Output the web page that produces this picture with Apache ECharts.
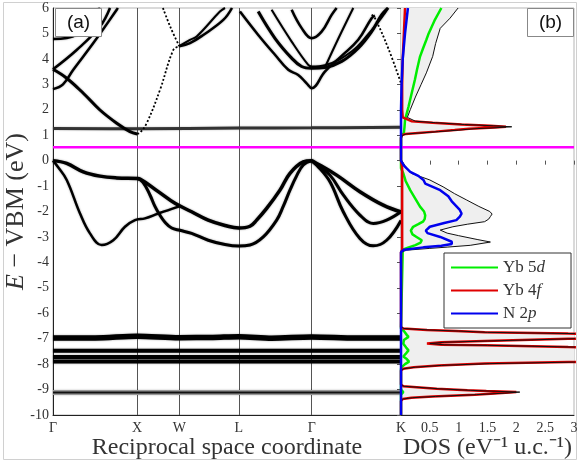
<!DOCTYPE html>
<html>
<head>
<meta charset="utf-8">
<script src="https://cdn.jsdelivr.net/npm/echarts@6/dist/echarts.min.js"></script>
<style>
  html, body { margin: 0; padding: 0; background: #fff; }
  #chart { width: 580px; height: 462px; }
</style>
</head>
<body>
<div id="chart"></div>
<script>
// k-path: high-symmetry points (distance along path)
const kTicks = [0, 1, 1.5, 2.207, 3.073, 4.134];
const kNames = ['Γ', 'X', 'W', 'L', 'Γ', 'K'];
const gapLine = 0.53;

// valence bands [k, E]
const vbA = [[0,0],[0.163,-0.11],[0.36,-0.44],[0.558,-0.61],[0.757,-0.68],[1.0,-0.7],[1.033,-0.72],[1.251,-1.22],[1.449,-1.68],[1.647,-2.01],[1.844,-2.34],[2.043,-2.55],[2.207,-2.65],[2.34,-2.58],[2.419,-2.34],[2.538,-1.88],[2.696,-1.16],[2.815,-0.5],[2.973,-0.05],[3.073,0],[3.092,-0.03],[3.369,-0.57],[3.646,-1.22],[3.923,-1.75],[4.134,-2.02]];
const vbB = [[0,0],[0.059,-0.25],[0.163,-0.76],[0.321,-2.08],[0.439,-2.86],[0.578,-3.32],[0.716,-3.13],[0.855,-2.6],[0.974,-2.34],[1.093,-2.27],[1.251,-2.08],[1.5,-1.8]];
const vbC = [[1.0,-0.7],[1.069,-0.85],[1.152,-1.35],[1.211,-1.8],[1.271,-2.15],[1.33,-2.42],[1.41,-2.65],[1.508,-2.74],[1.647,-2.86],[1.844,-3.13],[2.043,-3.3],[2.207,-3.36],[2.34,-3.32],[2.498,-3.0],[2.657,-2.34],[2.735,-1.8],[2.815,-1.16],[2.894,-0.6],[2.973,-0.17],[3.073,0]];
const vbD = [[3.073,0],[3.132,-0.17],[3.29,-0.57],[3.448,-1.35],[3.646,-2.14],[3.804,-2.47],[3.963,-2.34],[4.134,-2.01]];
const vbE = [[3.073,0],[3.132,-0.17],[3.29,-0.83],[3.448,-2.01],[3.646,-3.06],[3.804,-3.35],[3.963,-3.13],[4.134,-2.35]];

// conduction bands [k, E]
const cbFlat = [[0,1.26],[1.0,1.25],[2.207,1.28],[3.073,1.29],[4.134,1.31]];
const cbC1 = [[0,3.59],[0.163,3.24],[0.36,2.65],[0.558,1.99],[0.757,1.47],[0.914,1.14],[1.0,1.05]];
const cbXWup = [[1.0,1.05],[1.033,1.1],[1.113,1.47],[1.271,2.78],[1.429,4.35],[1.5,4.5]];
const cbC2 = [[0,3.59],[0.281,4.35],[0.558,5.27],[0.677,6.0]];
const cbC3 = [[0,2.81],[0.119,3.0],[0.241,3.57],[0.479,4.62],[0.757,5.93],[0.77,6.0]];
const cbC4 = [[0,4.78],[0.163,4.82],[0.281,4.95],[0.4,5.3],[0.558,6.0]];
const cbXWdown = [[1.306,6.0],[1.401,5.2],[1.5,4.5]];
const cbWL1 = [[1.5,4.5],[1.627,4.62],[1.785,4.94],[2.023,5.53],[2.126,6.0]];
const cbWL2 = [[1.5,4.5],[1.627,4.75],[1.707,4.88],[1.983,5.86],[2.043,6.0]];
const cbLG1 = [[2.221,5.86],[2.438,4.94],[2.637,4.16],[2.795,3.57],[2.913,3.37],[3.013,3.04],[3.073,2.85],[3.23,3.5],[3.429,4.12],[3.626,4.75],[3.785,5.6],[3.824,5.7]];
const cbLG2 = [[2.438,5.86],[2.637,4.81],[2.835,4.03],[2.954,3.7],[3.073,3.63],[3.23,3.66],[3.429,3.9],[3.626,4.42],[3.785,5.07],[3.904,5.73],[3.979,6.0]];
const cbLG3 = [[2.597,5.93],[2.835,4.68],[3.032,3.76],[3.073,3.7],[3.23,3.75],[3.547,4.29],[3.745,4.97],[3.943,5.8],[3.98,6.0]];
const cbTop = [[2.835,5.93],[2.954,5.21],[3.073,4.81],[3.191,5.07],[3.31,5.73],[3.369,6.0]];
const cbGK = [[3.23,3.66],[3.39,4.8],[3.567,6.0]];
const cbPeakK = [[3.785,5.73],[3.824,5.6],[3.982,4.42],[4.134,3.04]];

// Yb 4f core bands [k, E]
const core1 = [[0,-6.97],[0.5,-6.97],[1.0,-6.9],[1.5,-6.96],[1.9,-6.95],[2.207,-6.92],[2.6,-6.98],[3.073,-6.93],[3.6,-6.97],[4.134,-6.97]];
const core2 = [[0,-7.47],[4.134,-7.47]];
const core3 = [[0,-7.72],[4.134,-7.72]];
const core4 = [[0,-7.9],[4.134,-7.9]];
const core5 = [[0,-9.12],[4.134,-9.12]];

// DOS: energies and values
const totalE = [6.0,5.6,5.2,4.6,4.1,3.45,3.0,2.5,2.0,1.7,1.63,1.55,1.49,1.42,1.37,1.33,1.3,1.25,1.2,1.14,1.09,1.05,1.0,0.9,0.05,0.0,-0.2,-0.5,-0.76,-1.03,-1.3,-1.55,-1.8,-2.0,-2.1,-2.2,-2.3,-2.4,-2.5,-2.6,-2.73,-2.85,-2.95,-3.1,-3.2,-3.26,-3.33,-3.4,-3.45,-3.52,-3.6,-6.5,-6.6,-6.66,-6.7,-6.75,-6.8,-6.83,-6.98,-7.0,-7.05,-7.09,-7.14,-7.19,-7.24,-7.26,-7.33,-7.36,-7.9,-7.92,-7.98,-8.05,-8.12,-8.18,-8.25,-8.8,-8.87,-8.97,-9.03,-9.06,-9.1,-9.14,-9.2,-9.27,-9.32,-9.37,-9.45,-10];
const totalDos = [0.99,0.85,0.68,0.6,0.55,0.44,0.35,0.25,0.16,0.11,0.12,0.25,0.6,1.1,1.6,1.92,1.7,1.25,1.0,0.65,0.35,0.1,0.03,0,0,0.02,0.07,0.18,0.5,0.73,0.93,1.14,1.35,1.54,1.58,1.55,1.52,1.45,1.15,0.9,0.68,0.8,1.0,1.32,1.55,1.55,1.2,0.8,0.5,0.1,0,0,0.05,0.5,1.0,1.5,3.0,4.0,4.0,3.0,2.2,1.5,0.75,0.5,0.75,1.5,3.0,4.0,4.0,3.0,1.54,0.7,0.25,0.05,0,0,0.05,0.66,1.2,1.53,2.06,1.8,1.31,0.6,0.2,0.04,0,0];

const f4E = [6.0,5.0,4.0,3.0,2.0,1.7,1.63,1.55,1.49,1.42,1.37,1.33,1.3,1.25,1.2,1.14,1.09,1.05,1.0,0.9,0.0,-0.3,-3.5,-3.6,-6.55,-6.6,-6.66,-6.7,-6.75,-6.8,-6.83,-6.98,-7.0,-7.05,-7.09,-7.14,-7.19,-7.24,-7.26,-7.33,-7.36,-7.9,-7.92,-7.98,-8.05,-8.12,-8.18,-8.25,-8.8,-8.87,-8.97,-9.03,-9.06,-9.1,-9.14,-9.2,-9.27,-9.32,-9.37,-9.45,-10];
const f4Dos = [0.07,0.05,0.03,0.02,0.02,0.03,0.06,0.18,0.55,1.05,1.55,1.82,1.62,1.18,0.93,0.6,0.3,0.08,0.02,0,0,0.02,0.02,0,0,0.04,0.45,0.95,1.45,2.9,4.0,4.0,2.9,2.1,1.45,0.7,0.45,0.7,1.45,2.9,4.0,4.0,2.9,1.45,0.65,0.22,0.04,0,0,0.04,0.62,1.15,1.48,2.0,1.75,1.28,0.55,0.18,0.03,0,0];

const d5E = [6.0,5.5,5.0,4.75,4.4,4.09,3.6,3.17,2.6,2.12,1.6,1.3,1.1,1.0,0.9,-0.3,-0.5,-0.8,-1.16,-1.5,-1.81,-2.0,-2.15,-2.3,-2.4,-2.5,-2.6,-2.75,-2.9,-3.0,-3.13,-3.22,-3.32,-3.42,-3.5,-3.55,-6.6,-6.7,-6.85,-6.93,-7.05,-7.2,-7.35,-7.46,-7.6,-7.7,-7.8,-7.9,-8.0,-8.12,-8.2,-9.0,-9.1,-9.2,-10];
const d5Dos = [0.7,0.58,0.48,0.44,0.38,0.33,0.28,0.24,0.18,0.13,0.07,0.06,0.05,0.02,0,0,0.04,0.08,0.16,0.25,0.33,0.4,0.42,0.41,0.38,0.3,0.21,0.17,0.2,0.27,0.36,0.34,0.25,0.12,0.03,0,0,0.05,0.1,0.13,0.05,0.04,0.09,0.13,0.08,0.04,0.1,0.14,0.07,0.01,0,0,0.04,0,0];

const p2E = [6.0,5.0,4.0,3.0,2.0,0.0,-0.2,-0.44,-0.6,-0.76,-0.9,-1.16,-1.4,-1.6,-1.94,-2.08,-2.2,-2.34,-2.45,-2.6,-2.75,-2.85,-3.0,-3.19,-3.28,-3.35,-3.41,-3.5,-3.6,-10];
const p2Dos = [0.12,0.07,0.03,0.01,0,0,0.05,0.16,0.3,0.39,0.42,0.68,0.82,0.88,1.02,1.05,1.02,0.96,0.75,0.5,0.43,0.46,0.68,0.88,0.88,0.7,0.39,0.05,0,0];

const serif = 'Liberation Serif';
const pairs = (es, vs) => es.map((e, i) => [vs[i], e]);

const bandSeries = (data, width, extra) => Object.assign({
    type: 'line',
    xAxisIndex: 0,
    yAxisIndex: 0,
    data: data,
    smooth: 0.4,
    symbol: 'none',
    silent: true,
    lineStyle: {color: '#000', width: width, shadowColor: 'rgba(0,0,0,0.4)', shadowBlur: 2},
    z: 3
}, extra || {});

const dosSeries = (name, data, color, width, z) => ({
    name: name,
    type: 'line',
    xAxisIndex: 1,
    yAxisIndex: 1,
    data: data,
    symbol: 'none',
    silent: true,
    lineStyle: {color: color, width: width},
    itemStyle: {color: color},
    z: z
});

const chart = echarts.init(document.getElementById('chart'));

const totalPts = pairs(totalE, totalDos);

const option = {
    animation: false,
    backgroundColor: '#fff',
    grid: [
        {left: 53, top: 8, width: 348, height: 407, show: true, borderColor: '#b5b5b5', borderWidth: 1, containLabel: false, outerBoundsMode: 'none'},
        {left: 401, top: 8, width: 173, height: 407, show: true, borderColor: '#b5b5b5', borderWidth: 1, containLabel: false, outerBoundsMode: 'none'}
    ],
    xAxis: [
        {
            gridIndex: 0, type: 'value', min: 0, max: kTicks[kTicks.length - 1],
            axisLine: {show: true, onZero: false, lineStyle: {color: '#222', width: 1}},
            axisTick: {show: false},
            splitLine: {show: false},
            axisLabel: {
                customValues: kTicks,
                showMaxLabel: true,
                formatter: (v) => {
                    const i = kTicks.findIndex(t => Math.abs(t - v) < 1e-6);
                    return i >= 0 ? kNames[i] : '';
                },
                fontFamily: serif, fontSize: 14, color: '#333', margin: 6
            },
            name: 'Reciprocal space coordinate',
            nameLocation: 'middle', nameGap: 21, nameMoveOverlap: false,
            nameTextStyle: {fontFamily: serif, fontSize: 24, color: '#333'}
        },
        {
            gridIndex: 1, type: 'value', min: 0, max: 3, interval: 0.5,
            axisLine: {show: true, onZero: false, lineStyle: {color: '#222', width: 1}},
            axisTick: {show: false},
            splitLine: {show: false},
            axisLabel: {
                formatter: (v) => v === 0 ? '' : String(v),
                fontFamily: serif, fontSize: 14, color: '#333', margin: 6
            },
            name: 'DOS (eV⁻¹ u.c.⁻¹)',
            nameLocation: 'middle', nameGap: 21, nameMoveOverlap: false,
            nameTextStyle: {fontFamily: serif, fontSize: 24, color: '#333'}
        },
        {
            gridIndex: 1, type: 'value', min: 0, max: 3, interval: 0.5, position: 'top',
            axisLine: {show: false},
            axisTick: {show: true, inside: true, length: 4, lineStyle: {color: '#555'}},
            axisLabel: {show: false},
            splitLine: {show: false}
        }
    ],
    yAxis: [
        {
            gridIndex: 0, type: 'value', min: -10, max: 6, interval: 1,
            axisLine: {show: true, onZero: false, lineStyle: {color: '#222', width: 1}},
            axisTick: {show: false},
            splitLine: {show: false},
            axisLabel: {fontFamily: serif, fontSize: 14, color: '#333', margin: 4},
            name: '{i|E} − VBM (eV)',
            nameLocation: 'middle', nameGap: 24, nameRotate: 90, nameMoveOverlap: false,
            nameTextStyle: {
                fontFamily: serif, fontSize: 26, color: '#333',
                rich: {i: {fontFamily: serif, fontSize: 26, fontStyle: 'italic', color: '#333'}}
            }
        },
        {
            gridIndex: 1, type: 'value', min: -10, max: 6, interval: 1, position: 'right',
            axisLine: {show: false},
            axisTick: {show: true, inside: true, length: 4, lineStyle: {color: '#555'}},
            axisLabel: {show: false},
            splitLine: {show: false}
        }
    ],
    legend: {
        data: ['Yb 5d', 'Yb 4f', 'N 2p'],
        orient: 'vertical',
        left: 444, top: 253,
        itemWidth: 47, itemHeight: 14, itemGap: 6,
        padding: [6, 26, 6, 6],
        backgroundColor: '#fff',
        borderColor: '#333', borderWidth: 1, borderRadius: 0,
        selectedMode: false,
        itemStyle: {opacity: 0},
        formatter: (name) => ({'Yb 5d': 'Yb 5{i|d}', 'Yb 4f': 'Yb 4{i|f}', 'N 2p': 'N 2{i|p}'})[name],
        textStyle: {
            fontFamily: serif, fontSize: 17, color: '#333',
            rich: {i: {fontFamily: serif, fontSize: 17, fontStyle: 'italic', color: '#333'}}
        }
    },
    graphic: [
        {type: 'rect', shape: {x: 3.5, y: 2.5, width: 573, height: 457}, style: {fill: 'none', stroke: '#d0d0d0', lineWidth: 1}, z: 0, silent: true},
        {type: 'rect', shape: {x: 55.5, y: 8.5, width: 46, height: 28}, style: {fill: '#fff', stroke: '#888', lineWidth: 1}, z: 50},
        {type: 'text', x: 78.5, y: 23, style: {text: '(a)', font: '19px "Liberation Sans"', fill: '#111', textAlign: 'center', textVerticalAlign: 'middle'}, z: 51},
        {type: 'rect', shape: {x: 527.5, y: 8.5, width: 46, height: 28}, style: {fill: '#fff', stroke: '#888', lineWidth: 1}, z: 50},
        {type: 'text', x: 550.5, y: 23, style: {text: '(b)', font: '19px "Liberation Sans"', fill: '#111', textAlign: 'center', textVerticalAlign: 'middle'}, z: 51}
    ],
    series: [
        // gap line on band panel, plus high-symmetry verticals
        {
            type: 'line', xAxisIndex: 0, yAxisIndex: 0,
            data: [[0, gapLine], [kTicks[kTicks.length - 1], gapLine]],
            symbol: 'none', silent: true,
            lineStyle: {color: '#ff00ff', width: 2.5},
            z: 6,
            markLine: {
                silent: true, symbol: ['none', 'none'], label: {show: false},
                lineStyle: {color: '#555', width: 1, type: 'solid'},
                data: kTicks.slice(1, -1).map(v => ({xAxis: v})),
                z: 1
            }
        },
        {
            type: 'line', xAxisIndex: 1, yAxisIndex: 1,
            data: [[0, gapLine], [3, gapLine]],
            symbol: 'none', silent: true,
            lineStyle: {color: '#ff00ff', width: 2.5},
            z: 6
        },
        // bands
        bandSeries(vbA, 3.5),
        bandSeries(vbB, 2.5),
        bandSeries(vbC, 3),
        bandSeries(vbD, 3),
        bandSeries(vbE, 3),
        bandSeries(cbFlat, 3, {lineStyle: {color: '#333', width: 3, shadowColor: 'rgba(0,0,0,0.3)', shadowBlur: 2}}),
        bandSeries(cbC1, 3),
        bandSeries(cbXWup, 1.8, {lineStyle: {color: '#000', width: 1.8, type: [2, 2]}}),
        bandSeries(cbC2, 2.5),
        bandSeries(cbC3, 2.5),
        bandSeries(cbC4, 2.5),
        bandSeries(cbXWdown, 1.8, {lineStyle: {color: '#000', width: 1.8, type: [2, 2]}}),
        bandSeries(cbWL1, 2.5),
        bandSeries(cbWL2, 2),
        bandSeries(cbLG1, 2.5),
        bandSeries(cbLG2, 3),
        bandSeries(cbLG3, 2),
        bandSeries(cbTop, 2.5),
        bandSeries(cbGK, 2),
        bandSeries(cbPeakK, 1.8, {lineStyle: {color: '#000', width: 1.8, type: [2, 2]}}),
        bandSeries(core1, 5.5, {smooth: 0.3}),
        bandSeries(core2, 4),
        bandSeries(core3, 4),
        bandSeries(core4, 4),
        bandSeries(core5, 5, {lineStyle: {color: '#999', width: 5, shadowColor: 'rgba(0,0,0,0.3)', shadowBlur: 2}}),
        bandSeries(core5, 2, {z: 4, lineStyle: {color: '#111', width: 2}}),
        // DOS: grey fill of total DOS
        {
            type: 'custom', xAxisIndex: 1, yAxisIndex: 1,
            data: [[0, 0]], silent: true, z: 1,
            renderItem: (params, api) => {
                const pts = totalPts.map(p => api.coord(p));
                pts.unshift(api.coord([0, totalE[0]]));
                pts.push(api.coord([0, totalE[totalE.length - 1]]));
                const cs = params.coordSys;
                return {
                    type: 'polygon',
                    shape: {points: pts},
                    style: {fill: '#efefef', stroke: 'none'},
                    clipPath: {type: 'rect', shape: {x: cs.x, y: cs.y, width: cs.width, height: cs.height}}
                };
            }
        },
        dosSeries('Yb 5d', pairs(d5E, d5Dos), '#00ee00', 2.5, 3),
        dosSeries('Yb 4f', pairs(f4E, f4Dos), '#e00000', 2.5, 4),
        dosSeries('total', totalPts, '#111', 1, 5),
        dosSeries('N 2p', pairs(p2E, p2Dos), '#0000ee', 2.5, 6)
    ]
};

chart.setOption(option);
</script>
</body>
</html>
